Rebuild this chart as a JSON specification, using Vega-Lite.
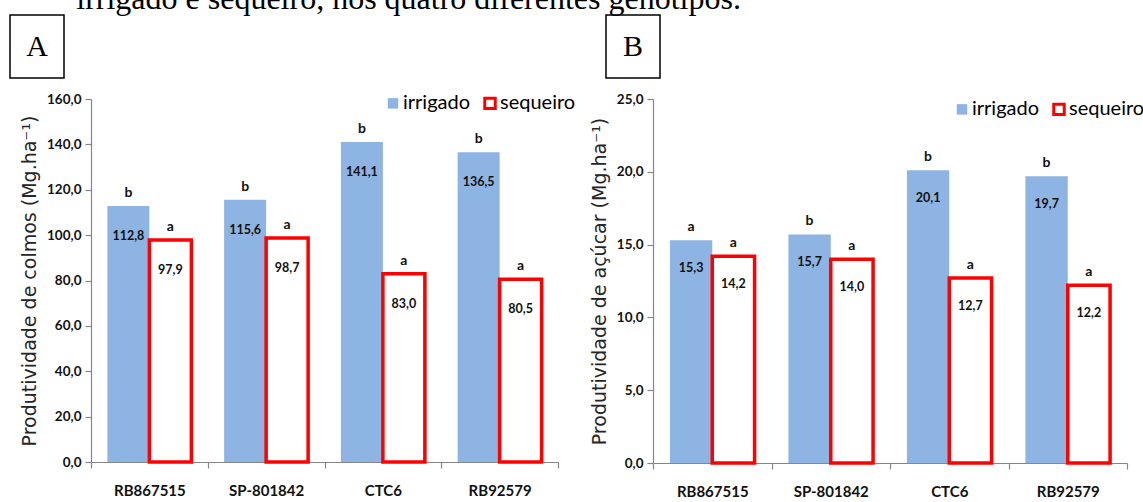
{
  "$schema": "https://vega.github.io/schema/vega-lite/v6.json",
  "background": "white",
  "padding": {"left": 9, "top": -17, "right": 2, "bottom": 4},
  "title": {
    "text": "irrigado e sequeiro, nos quatro diferentes genótipos.",
    "anchor": "start",
    "font": "Liberation Serif",
    "fontSize": 32,
    "fontWeight": "normal",
    "color": "#000000",
    "baseline": "alphabetic",
    "dx": 67,
    "offset": -27
  },
  "datasets": {
    "dados": [
      {"painel": "A", "genotipo": "RB867515", "trat": "irrigado", "valor": 112.8, "letra": "b"},
      {"painel": "A", "genotipo": "RB867515", "trat": "sequeiro", "valor": 97.9, "letra": "a"},
      {"painel": "A", "genotipo": "SP-801842", "trat": "irrigado", "valor": 115.6, "letra": "b"},
      {"painel": "A", "genotipo": "SP-801842", "trat": "sequeiro", "valor": 98.7, "letra": "a"},
      {"painel": "A", "genotipo": "CTC6", "trat": "irrigado", "valor": 141.1, "letra": "b"},
      {"painel": "A", "genotipo": "CTC6", "trat": "sequeiro", "valor": 83.0, "letra": "a"},
      {"painel": "A", "genotipo": "RB92579", "trat": "irrigado", "valor": 136.5, "letra": "b"},
      {"painel": "A", "genotipo": "RB92579", "trat": "sequeiro", "valor": 80.5, "letra": "a"},
      {"painel": "B", "genotipo": "RB867515", "trat": "irrigado", "valor": 15.3, "letra": "a"},
      {"painel": "B", "genotipo": "RB867515", "trat": "sequeiro", "valor": 14.2, "letra": "a"},
      {"painel": "B", "genotipo": "SP-801842", "trat": "irrigado", "valor": 15.7, "letra": "b"},
      {"painel": "B", "genotipo": "SP-801842", "trat": "sequeiro", "valor": 14.0, "letra": "a"},
      {"painel": "B", "genotipo": "CTC6", "trat": "irrigado", "valor": 20.1, "letra": "b"},
      {"painel": "B", "genotipo": "CTC6", "trat": "sequeiro", "valor": 12.7, "letra": "a"},
      {"painel": "B", "genotipo": "RB92579", "trat": "irrigado", "valor": 19.7, "letra": "b"},
      {"painel": "B", "genotipo": "RB92579", "trat": "sequeiro", "valor": 12.2, "letra": "a"}
    ]
  },
  "data": {"name": "dados"},
  "bounds": "flush",
  "spacing": 84,
  "vconcat": [
    {
      "bounds": "flush",
      "spacing": 542,
      "hconcat": [
        {
          "width": 54,
          "height": 63,
          "view": {"stroke": "#000000", "strokeWidth": 1.5},
          "data": {"values": [{"painel": "A"}]},
          "mark": {"type": "text", "font": "Liberation Serif", "fontSize": 30, "baseline": "middle", "align": "center", "color": "#000000"},
          "encoding": {"text": {"field": "painel"}}
        },
        {
          "width": 54,
          "height": 63,
          "view": {"stroke": "#000000", "strokeWidth": 1.5},
          "data": {"values": [{"painel": "B"}]},
          "mark": {"type": "text", "font": "Liberation Serif", "fontSize": 30, "baseline": "middle", "align": "center", "color": "#000000"},
          "encoding": {"text": {"field": "painel"}}
        }
      ]
    },
    {
      "bounds": "flush",
      "spacing": 80,
      "hconcat": [
        {
          "width": 1,
          "height": 1,
          "data": {"values": []},
          "mark": "point"
        },
        {
          "bounds": "flush",
          "spacing": 95,
          "resolve": {
            "scale": {"x": "independent", "xOffset": "independent", "y": "independent"},
            "legend": {"fill": "independent", "stroke": "independent"}
          },
          "hconcat": [
            {
              "width": 467,
              "height": 363,
              "transform": [{"filter": "datum.painel === 'A'"}],
              "encoding": {
                "x": {
                  "field": "genotipo",
                  "type": "nominal",
                  "sort": ["RB867515", "SP-801842", "CTC6", "RB92579"],
                  "scale": {"paddingInner": 0, "paddingOuter": 0},
                  "axis": {"title": null, "labelAngle": 0}
                },
                "xOffset": {
                  "field": "trat",
                  "type": "nominal",
                  "sort": ["irrigado", "sequeiro"],
                  "scale": {"paddingInner": 0, "paddingOuter": 0.39}
                },
                "y": {
                  "field": "valor",
                  "type": "quantitative",
                  "scale": {"domain": [0, 160], "nice": false},
                  "axis": {
                    "values": [0, 20, 40, 60, 80, 100, 120, 140, 160],
                    "format": ".1f",
                    "title": "Produtividade de colmos (Mg.ha⁻¹)"
                  }
                }
              },
              "layer": [
                {
                  "mark": {"type": "bar", "strokeWidth": 3.5},
                  "encoding": {
                    "fill": {
                      "field": "trat",
                      "type": "nominal",
                      "sort": ["irrigado", "sequeiro"],
                      "scale": {"domain": ["irrigado", "sequeiro"], "range": ["#8EB4E3", "#FFFFFF"]},
                      "legend": {"orient": "none", "legendX": 292, "legendY": -6, "direction": "horizontal", "title": null}
                    },
                    "stroke": {
                      "field": "trat",
                      "type": "nominal",
                      "sort": ["irrigado", "sequeiro"],
                      "scale": {"domain": ["irrigado", "sequeiro"], "range": ["transparent", "#FF0000"]},
                      "legend": {"orient": "none", "legendX": 292, "legendY": -6, "direction": "horizontal", "title": null}
                    }
                  }
                },
                {
                  "mark": {"type": "text", "baseline": "middle", "dy": 30, "font": "Lato", "fontSize": 12.5, "fontWeight": "bold", "color": "#111111"},
                  "encoding": {"text": {"field": "valor", "type": "quantitative", "format": ".1f"}}
                },
                {
                  "mark": {"type": "text", "baseline": "alphabetic", "dy": -9, "font": "Lato", "fontSize": 14, "fontWeight": "bold", "color": "#111111"},
                  "encoding": {"text": {"field": "letra"}}
                }
              ]
            },
            {
              "width": 474,
              "height": 364,
              "transform": [{"filter": "datum.painel === 'B'"}],
              "encoding": {
                "x": {
                  "field": "genotipo",
                  "type": "nominal",
                  "sort": ["RB867515", "SP-801842", "CTC6", "RB92579"],
                  "scale": {"paddingInner": 0, "paddingOuter": 0},
                  "axis": {"title": null, "labelAngle": 0}
                },
                "xOffset": {
                  "field": "trat",
                  "type": "nominal",
                  "sort": ["irrigado", "sequeiro"],
                  "scale": {"paddingInner": 0, "paddingOuter": 0.4}
                },
                "y": {
                  "field": "valor",
                  "type": "quantitative",
                  "scale": {"domain": [0, 25], "nice": false},
                  "axis": {
                    "values": [0, 5, 10, 15, 20, 25],
                    "format": ".1f",
                    "title": "Produtividade de açúcar (Mg.ha⁻¹)"
                  }
                }
              },
              "layer": [
                {
                  "mark": {"type": "bar", "strokeWidth": 3.5},
                  "encoding": {
                    "fill": {
                      "field": "trat",
                      "type": "nominal",
                      "sort": ["irrigado", "sequeiro"],
                      "scale": {"domain": ["irrigado", "sequeiro"], "range": ["#8EB4E3", "#FFFFFF"]},
                      "legend": {"orient": "none", "legendX": 299, "legendY": 0, "direction": "horizontal", "title": null}
                    },
                    "stroke": {
                      "field": "trat",
                      "type": "nominal",
                      "sort": ["irrigado", "sequeiro"],
                      "scale": {"domain": ["irrigado", "sequeiro"], "range": ["transparent", "#FF0000"]},
                      "legend": {"orient": "none", "legendX": 299, "legendY": 0, "direction": "horizontal", "title": null}
                    }
                  }
                },
                {
                  "mark": {"type": "text", "baseline": "middle", "dy": 28, "font": "Lato", "fontSize": 12.5, "fontWeight": "bold", "color": "#111111"},
                  "encoding": {"text": {"field": "valor", "type": "quantitative", "format": ".1f"}}
                },
                {
                  "mark": {"type": "text", "baseline": "alphabetic", "dy": -9, "font": "Lato", "fontSize": 14, "fontWeight": "bold", "color": "#111111"},
                  "encoding": {"text": {"field": "letra"}}
                }
              ]
            }
          ]
        }
      ]
    }
  ],
  "config": {
    "locale": {"number": {"decimal": ",", "thousands": ".", "grouping": [3], "currency": ["R$", ""]}},
    "view": {"stroke": null},
    "axis": {
      "grid": false,
      "domainColor": "#868686",
      "domainWidth": 1.2,
      "tickColor": "#868686",
      "tickWidth": 1.2,
      "labelFont": "Lato",
      "labelFontWeight": "bold",
      "labelColor": "#111111"
    },
    "axisX": {"tickBand": "extent", "tickSize": 6, "labelFontSize": 15, "labelPadding": 15},
    "axisY": {
      "tickSize": 6,
      "labelFontSize": 13.5,
      "labelPadding": 4,
      "titleFont": "DejaVu Sans",
      "titleFontSize": 19,
      "titleFontWeight": "normal",
      "titleColor": "#262626",
      "titlePadding": 7
    },
    "legend": {
      "padding": 0,
      "labelFont": "Lato",
      "labelFontSize": 20,
      "labelColor": "#000000",
      "symbolType": "square",
      "symbolSize": 110,
      "symbolStrokeWidth": 3,
      "labelOffset": 0,
      "columnPadding": 7
    }
  }
}
